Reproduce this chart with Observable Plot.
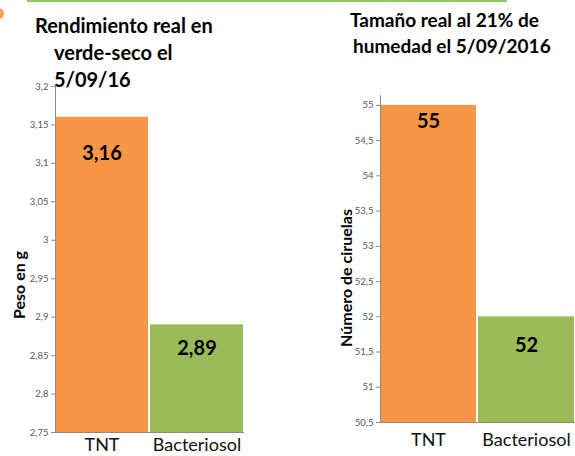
<!DOCTYPE html>
<html><head><meta charset="utf-8">
<script src="https://cdn.jsdelivr.net/npm/d3@7"></script>
<script src="https://cdn.jsdelivr.net/npm/@observablehq/plot@0.6"></script>
<style>
body{margin:0;background:#fff;}
#root{position:relative;width:575px;height:456px;overflow:hidden;font-family:Lato,sans-serif;color:#000;}
.abs{position:absolute;white-space:nowrap;}
.title{font-weight:bold;font-size:20px;line-height:27px;}
.title2{font-weight:bold;font-size:19px;line-height:27px;}
.ytitle{font-weight:bold;font-size:16px;transform-origin:center center;transform:translate(-50%,-50%) rotate(-90deg);}
svg{position:absolute;overflow:visible;}
</style></head><body><div id="root">
<div class="abs" style="left:27px;top:0;width:480px;height:2px;background:#8CCB5E"></div>
<div class="abs" style="left:-7px;top:8px;width:11px;height:11px;border-radius:50%;background:#F7A050"></div>
<div class="abs title" style="left:35px;top:12px;">Rendimiento real en</div>
<div class="abs title" style="left:54px;top:39px;">verde-seco el</div>
<div class="abs title" style="left:54px;top:66px;">5/09/16</div>
<div class="abs title2" style="left:350px;top:6px;">Tamaño real al 21% de</div>
<div class="abs title2" style="left:353px;top:32px;">humedad el 5/09/2016</div>
<div class="abs ytitle" style="left:18px;top:285px;">Peso en g</div>
<div class="abs ytitle" style="left:345px;top:278px;">Número de ciruelas</div>
</div>
<script>
const treatments = ["TNT", "Bacteriosol"];
const barColors = ["#F79646", "#9BBB59"];

const pesoValues = [3.16, 2.89];
const pesoValueLabels = ["3,16", "2,89"];
const pesoTicks = [2.75, 2.8, 2.85, 2.9, 2.95, 3, 3.05, 3.1, 3.15, 3.2];
const pesoTickLabels = ["2,75", "2,8", "2,85", "2,9", "2,95", "3", "3,05", "3,1", "3,15", "3,2"];

const numValues = [55, 52];
const numValueLabels = ["55", "52"];
const numTicks = [50.5, 51, 51.5, 52, 52.5, 53, 53.5, 54, 54.5, 55];
const numTickLabels = ["50,5", "51", "51,5", "52", "52,5", "53", "53,5", "54", "54,5", "55"];

function panel({values, valueLabels, ticks, tickLabels, domain, width, height, margins, labelDy, xPad}) {
  const data = treatments.map((t, i) => ({t, v: values[i], lab: valueLabels[i]}));
  const tickMap = new Map(ticks.map((d, i) => [d, tickLabels[i]]));
  const bottom = domain[0];
  return Plot.plot({
    width, height,
    marginLeft: margins[0], marginTop: margins[1], marginRight: margins[2], marginBottom: margins[3],
    style: {fontFamily: "Lato, sans-serif", background: "transparent", overflow: "visible"},
    x: {domain: treatments, paddingInner: 0.02, paddingOuter: 0},
    y: {domain, label: null},
    color: {domain: treatments, range: barColors},
    marks: [
      Plot.barY(data, {x: "t", y1: bottom, y2: "v", fill: "t", inset: 0}),
      Plot.ruleY([bottom], {stroke: "#8c8c8c", strokeWidth: 1}),
      Plot.axisY({ticks, tickFormat: d => tickMap.get(d), tickSize: 4, tickPadding: 3, fontSize: 9.5, fill: "#595959", stroke: "#8c8c8c", label: null}),
      Plot.axisX({tickSize: 0, tickPadding: xPad, fontSize: 18, fill: "#111", label: null}),
      Plot.frame({anchor: "left", stroke: "#8c8c8c"}),
      ...data.map((d, i) => Plot.text([d], {x: "t", y: "v", text: "lab", dy: labelDy[i], fontSize: 20, fontWeight: "bold", fill: "#000"}))
    ]
  });
}

const root = document.getElementById("root");

const left = panel({
  values: pesoValues, valueLabels: pesoValueLabels, ticks: pesoTicks, tickLabels: pesoTickLabels,
  domain: [2.75, 3.2], width: 250, height: 456, margins: [55, 86, 6, 24], labelDy: [36, 24], xPad: 6
});
left.style.left = "0px"; left.style.top = "0px";
root.appendChild(left);

const right = panel({
  values: numValues, valueLabels: numValueLabels, ticks: numTicks, tickLabels: numTickLabels,
  domain: [50.5, 55.14], width: 275, height: 456, margins: [80, 95, 0, 34], labelDy: [16, 29], xPad: 11
});
right.style.left = "300px"; right.style.top = "0px";
root.appendChild(right);
</script>
</body></html>
